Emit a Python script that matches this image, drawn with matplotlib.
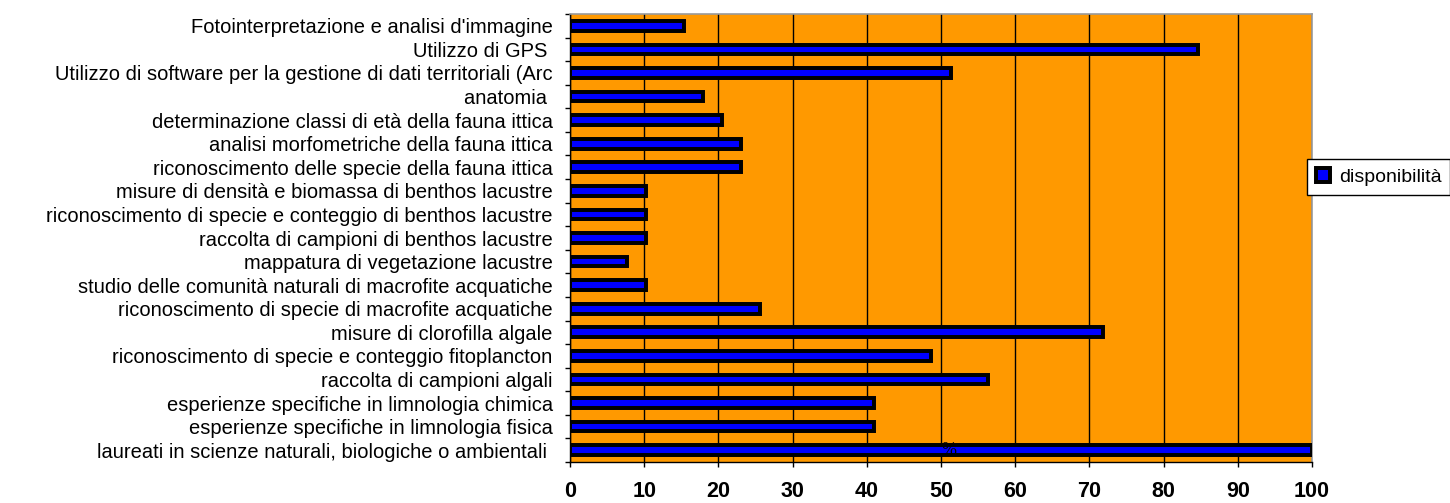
import numpy as np
import matplotlib.pyplot as plt

plt.rcParams['font.family'] = ['Liberation Sans', 'DejaVu Sans']

# competences, listed bottom to top
categorie = [
    "laureati in scienze naturali, biologiche o ambientali ",
    "esperienze specifiche in limnologia fisica",
    "esperienze specifiche in limnologia chimica",
    "raccolta di campioni algali",
    "riconoscimento di specie e conteggio fitoplancton",
    "misure di clorofilla algale",
    "riconoscimento di specie di macrofite acquatiche",
    "studio delle comunità naturali di macrofite acquatiche",
    "mappatura di vegetazione lacustre",
    "raccolta di campioni di benthos lacustre",
    "riconoscimento di specie e conteggio di benthos lacustre",
    "misure di densità e biomassa di benthos lacustre",
    "riconoscimento delle specie della fauna ittica",
    "analisi morfometriche della fauna ittica",
    "determinazione classi di età della fauna ittica",
    "anatomia ",
    "Utilizzo di software per la gestione di dati territoriali (Arc",
    "Utilizzo di GPS ",
    "Fotointerpretazione e analisi d'immagine",
]
disponibilita = [100.0, 41.0, 41.0, 56.4, 48.7, 71.8, 25.6, 10.3, 7.7, 10.3,
                 10.3, 10.3, 23.1, 23.1, 20.5, 17.9, 51.3, 84.6, 15.4]
xticks = list(range(0, 101, 10))

fig = plt.figure(figsize=(14.5, 5.03), dpi=100)
ax = fig.add_axes([570 / 1450, 1 - 462 / 503, 742 / 1450, 448 / 503])
ax.set_facecolor('#FF9900')

y = np.arange(len(categorie))
ax.barh(y, disponibilita, height=0.41, color='#0000FF', edgecolor='black',
        linewidth=2.85, label='disponibilità', zorder=3)

ax.set_xlim(0, 100)
ax.set_ylim(-0.5, len(categorie) - 0.5)
ax.set_xticks(xticks)
ax.set_xticklabels([str(v) for v in xticks], fontsize=15.5, fontweight='bold')
ax.xaxis.grid(True, color='black', linewidth=1, zorder=1)
ax.set_axisbelow(True)

# category labels sit at bar centres, tick marks at slot boundaries
ax.set_yticks(y)
ax.set_yticklabels(categorie, fontsize=14.5)
ax.tick_params(axis='y', length=0, pad=12.5)
ax.set_yticks(np.arange(-0.5, len(categorie)), minor=True)
ax.tick_params(axis='y', which='minor', length=3.6, width=1, color='black')
ax.tick_params(axis='x', length=3.6, width=1, pad=10)

for s in ['top', 'right']:
    ax.spines[s].set_color('#999999')
    ax.spines[s].set_linewidth(1.2)
for s in ['left', 'bottom']:
    ax.spines[s].set_color('black')
    ax.spines[s].set_linewidth(1)

ax.text(51.1, 0, '%', fontsize=13, family=['Liberation Serif', 'DejaVu Serif'],
        ha='center', va='center', zorder=4)

fig.legend(loc='center left', bbox_to_anchor=(1307 / 1450, 1 - 177 / 503),
           fontsize=14, frameon=True, fancybox=False, edgecolor='black',
           framealpha=1, handlelength=0.75, handleheight=0.75, handletextpad=0.45,
           borderpad=0.45, borderaxespad=0)

fig.savefig('out.png', dpi=100)
